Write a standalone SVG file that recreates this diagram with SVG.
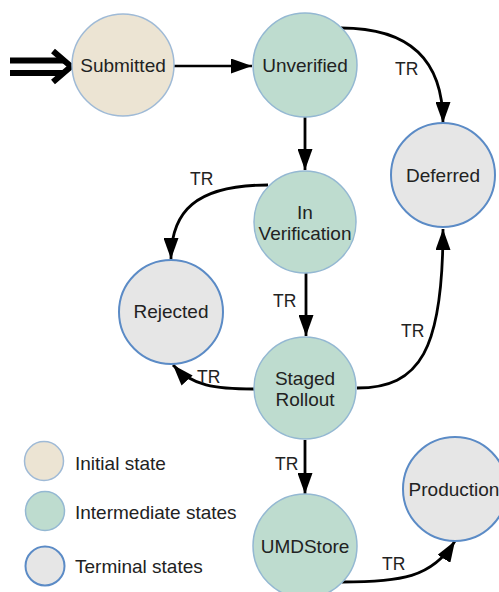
<svg xmlns="http://www.w3.org/2000/svg" width="499" height="592" viewBox="0 0 499 592">
<defs>
<marker id="ahb" viewBox="0 0 10 10" refX="10" refY="5" markerWidth="21" markerHeight="15" markerUnits="userSpaceOnUse" orient="auto" preserveAspectRatio="none">
<path d="M0,0 L10,5 L0,10 z" fill="#000"/>
</marker>
<style>
.init{fill:#ece4d3;stroke:#9fbad6;stroke-width:1.5}
.mid{fill:#bedccf;stroke:#94b8d2;stroke-width:1.5}
.term{fill:#e6e6e6;stroke:#5b8bc6;stroke-width:2}
text{font-family:"Liberation Sans",Arial,sans-serif;fill:#222}
.lbl{font-size:19px;text-anchor:middle}
.leg{font-size:19px}
.tr{font-size:17.5px}
.e{fill:none;stroke:#000;stroke-width:2.8;marker-end:url(#ahb)}
</style>
</defs>
<g id="connectors">
<g id="start" fill="none" stroke="#000" stroke-width="6">
<line x1="10" y1="60.5" x2="64" y2="60.5"/>
<line x1="10" y1="73" x2="64" y2="73"/>
<path d="M53,51 L71,66.5 L53,82" stroke-linejoin="miter"/>
</g>
<line class="e" x1="174" y1="66" x2="252" y2="66" style="stroke-width:2.3"/>
<path class="e" d="M341,28 C410,28 443,60 443,123"/>
<line class="e" x1="305" y1="117" x2="305" y2="170"/>
<path class="e" d="M268,185 C195,185 171,212 171,259"/>
<line class="e" x1="306" y1="273" x2="306" y2="336"/>
<path class="e" d="M254,389 C215,389 192,386 173,365"/>
<path class="e" d="M357,388 C420,388 443,350 443,229"/>
<line class="e" x1="305" y1="440" x2="305" y2="494"/>
<path class="e" d="M342,582 C400,582 432,578 455,541"/>
<text class="tr" x="395" y="75">TR</text>
<text class="tr" x="190" y="185">TR</text>
<text class="tr" x="273" y="307">TR</text>
<text class="tr" x="197" y="383">TR</text>
<text class="tr" x="401" y="337">TR</text>
<text class="tr" x="275" y="470">TR</text>
<text class="tr" x="382" y="570">TR</text>
</g>
<g id="submitted"><circle class="init" cx="123" cy="65" r="51"/><text class="lbl" x="123" y="72">Submitted</text></g>
<g id="unverified"><circle class="mid" cx="305" cy="65" r="52"/><text class="lbl" x="305" y="72">Unverified</text></g>
<g id="deferred"><circle class="term" cx="443" cy="175" r="52"/><text class="lbl" x="443" y="182">Deferred</text></g>
<g id="inverification"><circle class="mid" cx="305" cy="222" r="51"/><text class="lbl" x="305" y="219">In</text><text class="lbl" x="305" y="240">Verification</text></g>
<g id="rejected"><circle class="term" cx="171" cy="312" r="52"/><text class="lbl" x="171" y="318">Rejected</text></g>
<g id="stagedrollout"><circle class="mid" cx="305" cy="388" r="51"/><text class="lbl" x="305" y="385">Staged</text><text class="lbl" x="305" y="406">Rollout</text></g>
<g id="umdstore"><circle class="mid" cx="305" cy="546" r="52"/><text class="lbl" x="305" y="553">UMDStore</text></g>
<g id="production"><circle class="term" cx="455" cy="489" r="52"/><text class="lbl" x="454" y="496">Production</text></g>
<g id="legend">
<circle class="init" cx="44" cy="461" r="19.5"/><text class="leg" x="75" y="470">Initial state</text>
<circle class="mid" cx="45" cy="511" r="19.5"/><text class="leg" x="75" y="519">Intermediate states</text>
<circle class="term" cx="45" cy="566" r="19.5"/><text class="leg" x="75" y="573">Terminal states</text>
</g>
</svg>
